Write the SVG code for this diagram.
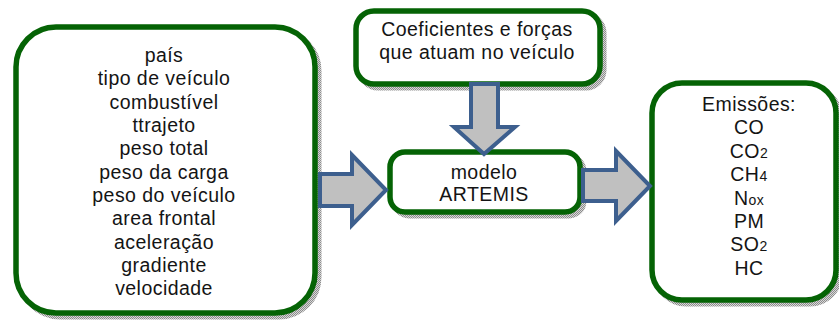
<svg xmlns="http://www.w3.org/2000/svg" width="839" height="323" viewBox="0 0 839 323">
<defs>
<pattern id="dither" width="2" height="2" patternUnits="userSpaceOnUse">
<rect width="2" height="2" fill="#d8d8d8"/>
<rect width="1" height="1" fill="#8c8c8c"/>
<rect x="1" y="1" width="1" height="1" fill="#8c8c8c"/>
</pattern>
<style>
.shadow{fill:url(#dither);stroke:url(#dither);stroke-width:5}
.box{fill:#ffffff;stroke:#056305;stroke-width:5.5}
.arrow{fill:#c0c0c0;stroke:#3d5f8e;stroke-width:4;stroke-linejoin:miter}
text{font-family:"Liberation Sans",Arial,sans-serif;font-size:19.5px;fill:#141414;text-anchor:middle;letter-spacing:0.45px}
.sub{font-size:14px}
</style>
</defs>
<rect width="839" height="323" fill="#ffffff"/>

<g id="entradas">
<rect class="shadow" x="20" y="31" width="299" height="286" rx="40"/>
<rect class="box" x="16" y="27" width="299" height="286" rx="40"/>
<text x="164" y="62">país</text>
<text x="164" y="85.3">tipo de veículo</text>
<text x="164" y="108.7">combustível</text>
<text x="164" y="132">ttrajeto</text>
<text x="164" y="155.3">peso total</text>
<text x="164" y="178.7">peso da carga</text>
<text x="164" y="202">peso do veículo</text>
<text x="164" y="225.3">area frontal</text>
<text x="164" y="248.7">aceleração</text>
<text x="164" y="272">gradiente</text>
<text x="164" y="295.3">velocidade</text>
</g>

<g id="coeficientes">
<rect class="shadow" x="360" y="15" width="244" height="73" rx="18"/>
<rect class="box" x="356" y="11" width="244" height="73" rx="18"/>
<text x="477" y="36">Coeficientes e forças</text>
<text x="477" y="59">que atuam no veículo</text>
</g>

<g id="modelo">
<rect class="shadow" x="394" y="156" width="190" height="60" rx="15"/>
<rect class="box" x="390" y="152" width="190" height="60" rx="15"/>
<text x="484" y="178.5">modelo</text>
<text x="484" y="201">ARTEMIS</text>
</g>

<g id="emissoes">
<rect class="shadow" x="656" y="87" width="184" height="217" rx="30"/>
<rect class="box" x="652" y="83" width="184" height="217" rx="30"/>
<text x="749" y="111">Emissões:</text>
<text x="749" y="134.4">CO</text>
<text x="749" y="157.8">CO<tspan class="sub">2</tspan></text>
<text x="749" y="181.2">CH<tspan class="sub">4</tspan></text>
<text x="749" y="204.6">N<tspan class="sub">ox</tspan></text>
<text x="749" y="228">PM</text>
<text x="749" y="251.4">SO<tspan class="sub">2</tspan></text>
<text x="749" y="274.8">HC</text>
</g>

<g id="connectors">
<polygon class="arrow" points="320,174 352,174 352,155 386,190 352,225 352,206 320,206"/>
<polygon class="arrow" points="471,84 498,84 498,127 515,127 484,154 454,127 471,127"/>
<polygon class="arrow" points="583,170 616,170 616,151 650,186 616,221 616,201 583,201"/>
</g>
</svg>
